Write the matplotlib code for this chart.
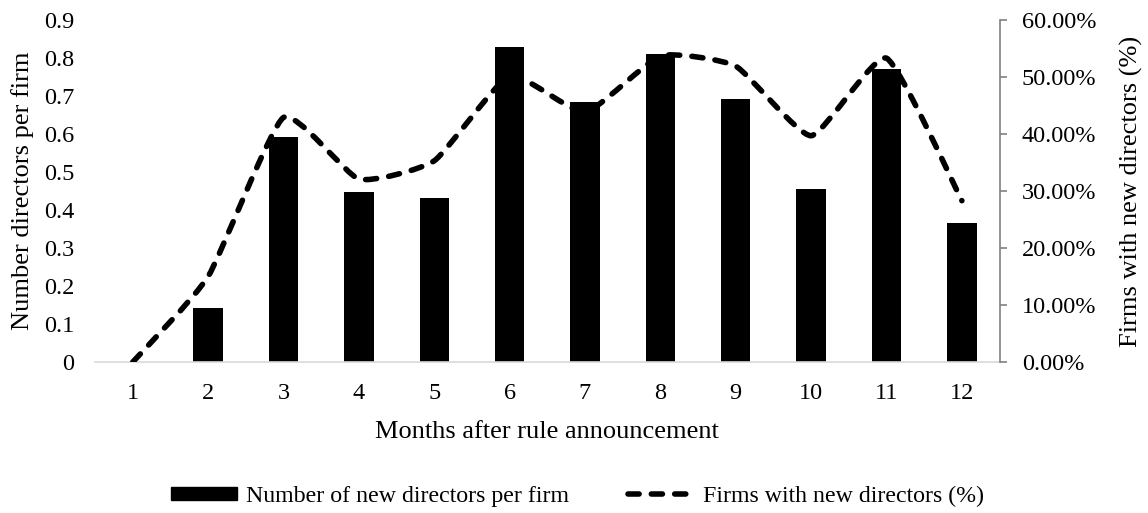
import numpy as np
import matplotlib.pyplot as plt
from matplotlib.path import Path
from matplotlib.patches import PathPatch
from matplotlib.lines import Line2D
from matplotlib.ticker import FuncFormatter

plt.rcParams['font.family'] = ['Liberation Serif', 'DejaVu Serif']

months = np.arange(1, 13)
directors_per_firm = [0.0, 0.141, 0.591, 0.447, 0.431, 0.829, 0.685, 0.81, 0.691, 0.454, 0.77, 0.367]
firms_pct = [0.0, 15.0, 42.9, 32.1, 35.3, 50.2, 43.8, 53.7, 51.9, 39.7, 53.3, 28.3]

TICK_FS = 17.5
LABEL_FS = 19
LEGEND_FS = 17.2
DASH = (0, (2, 2.2))


def smooth_path(x, y, k=12.0):
    # bezier through the points, tangents from neighbours (mildly smoothed line)
    pts = np.column_stack([x, y]).astype(float)
    verts = [pts[0]]
    codes = [Path.MOVETO]
    n = len(pts)
    for i in range(n - 1):
        p0 = pts[i - 1] if i > 0 else pts[i]
        p1 = pts[i]
        p2 = pts[i + 1]
        p3 = pts[i + 2] if i + 2 < n else pts[i + 1]
        c1 = p1 + (p2 - p0) / k
        c2 = p2 - (p3 - p1) / k
        verts += [c1, c2, p2]
        codes += [Path.CURVE4] * 3
    return Path(verts, codes)


fig = plt.figure(figsize=(11.48, 5.13), dpi=100)
ax = fig.add_axes([0.0828, 0.2943, 0.7879, 0.6667])

ax.bar(months, directors_per_firm, width=0.39, color='black', zorder=2)
ax.set_xlim(0.5, 12.5)
ax.set_ylim(0, 0.9)
ax.set_yticks(np.arange(0, 0.91, 0.1))
ax.yaxis.set_major_formatter(FuncFormatter(lambda v, p: '%g' % round(v, 1)))
ax.set_xticks(months)
ax.tick_params(axis='both', length=0, labelsize=TICK_FS)
ax.tick_params(axis='y', pad=15)
ax.tick_params(axis='x', pad=15)
for s in ['top', 'right', 'left']:
    ax.spines[s].set_visible(False)
ax.spines['bottom'].set_color('#d9d9d9')
ax.spines['bottom'].set_linewidth(1.2)
ax.set_ylabel('Number directors per firm', fontsize=LABEL_FS, labelpad=7)
ax.set_xlabel('Months after rule announcement', fontsize=LABEL_FS, labelpad=12)

ax2 = ax.twinx()
ax2.set_ylim(0, 60)
ax2.set_yticks(np.arange(0, 61, 10))
ax2.yaxis.set_major_formatter(FuncFormatter(lambda v, p: '%.2f%%' % v))
for s in ['top', 'left', 'bottom']:
    ax2.spines[s].set_visible(False)
ax2.spines['right'].set_color('#808080')
ax2.spines['right'].set_linewidth(1.2)
ax2.tick_params(axis='y', direction='out', length=5, width=1.2, color='#808080',
                labelsize=TICK_FS, pad=11)
ax2.set_ylabel('Firms with new directors (%)', fontsize=LABEL_FS, labelpad=17)

line = PathPatch(smooth_path(months, firms_pct), facecolor='none', edgecolor='black',
                 linewidth=4, linestyle=DASH, capstyle='round', zorder=3)
ax2.add_patch(line)

handles = [plt.Rectangle((0, 0), 1, 1, color='black'),
           Line2D([], [], color='black', linewidth=4, linestyle=DASH,
                  dash_capstyle='round')]
fig.legend(handles, ['Number of new directors per firm', 'Firms with new directors (%)'],
           loc='center', bbox_to_anchor=(0.503, 0.033), ncol=2, frameon=False,
           fontsize=LEGEND_FS, handlelength=2.75, handleheight=0.47, columnspacing=2.5,
           handletextpad=0.38)

fig.savefig('out.png', dpi=100)
